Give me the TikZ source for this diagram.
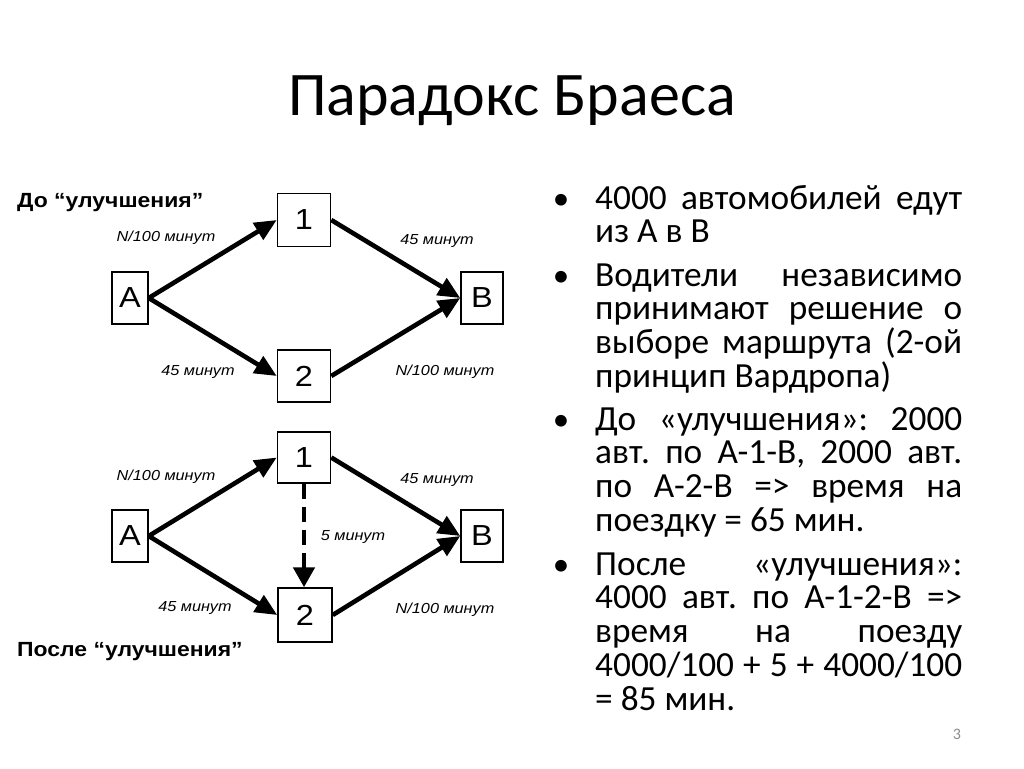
\documentclass[tikz,border=0pt]{standalone}
\usepackage{fontspec}
\setmainfont{Carlito}
\newfontfamily\diagfont[FakeStretch=1.12]{Liberation Sans}
\usetikzlibrary{arrows.meta}
\tikzset{
  box/.style={draw, line width=1.5pt, inner sep=0pt, font=\diagfont\fontsize{29}{29}\selectfont},
  lab/.style={font=\diagfont\itshape\fontsize{14.5}{14.5}\selectfont, inner sep=0pt},
  hdr/.style={font=\diagfont\bfseries\fontsize{20.5}{20.5}\selectfont, inner sep=0pt, anchor=base west},
  edge/.style={line width=4.6pt, -{Triangle[length=22pt,width=19pt]}},
  dashedge/.style={line width=4.8pt, dash pattern=on 15pt off 8pt, -{Triangle[length=20pt,width=21pt]}},
  bul/.style={anchor=base, inner sep=0pt, font=\fontsize{33}{33}\selectfont},
  para/.style={anchor=base west, inner sep=0pt}
}
\newcommand{\bodytext}[1]{\parbox[t]{367pt}{\fontsize{35.3}{33.8}\selectfont\frenchspacing\hyphenpenalty=10000\tolerance=9999\emergencystretch=20pt #1}}
\begin{document}
\begin{tikzpicture}[x=1pt,y=-1pt]
\useasboundingbox (0,0) rectangle (1024,768);
\fill[white] (0,0) rectangle (1024,768);

% title
\node[anchor=base, inner sep=0pt, font=\fontsize{62}{62}\selectfont] (title) at (512,115) {Парадокс Браеса};

% ---------- top diagram ----------
\node[hdr] (h1) at (17,207) {До “улучшения”};
\node[box, minimum width=36pt, minimum height=52pt] (A1) at (130,298) {A};
\node[box, minimum width=53pt, minimum height=53pt] (p1) at (304,220) {1};
\node[box, minimum width=53pt, minimum height=52pt] (q1) at (304,376) {2};
\node[box, minimum width=42pt, minimum height=52pt] (B1) at (482,298) {B};
\draw[edge] (A1.east) -- (p1.west);
\draw[edge] (A1.east) -- (q1.west);
\draw[edge] (p1.east) -- (B1.west);
\draw[edge] (q1.east) -- (B1.west);
\node[lab] (l11) at (166,238) {N/100 минут};
\node[lab] (l12) at (437,241) {45 минут};
\node[lab] (l13) at (198,372) {45 минут};
\node[lab] (l14) at (445,372) {N/100 минут};

% ---------- bottom diagram ----------
\node[box, minimum width=36pt, minimum height=52pt] (A2) at (130,536) {A};
\node[box, minimum width=53pt, minimum height=51pt] (p2) at (304,457.5) {1};
\node[box, minimum width=54pt, minimum height=54pt] (q2) at (305,615) {2};
\node[box, minimum width=42pt, minimum height=52pt] (B2) at (482,536) {B};
\draw[edge] (A2.east) -- (p2.west);
\draw[edge] (A2.east) -- (q2.west);
\draw[edge] (p2.east) -- (B2.west);
\draw[edge] (q2.east) -- (B2.west);
\draw[dashedge] (p2.south) -- (p2.south |- q2.north);
\node[lab] (l21) at (166,477) {N/100 минут};
\node[lab] (l22) at (437,480) {45 минут};
\node[lab] (l23) at (353,537) {5 минут};
\node[lab] (l24) at (195,608) {45 минут};
\node[lab] (l25) at (445,610) {N/100 минут};
\node[hdr] (h2) at (17,656) {После “улучшения”};

% ---------- bullets ----------
\node[bul] (b1) at (561,209) {•};
\node[para] (t1) at (595,209) {\bodytext{4000 автомобилей едут\linebreak из А в В}};
\node[bul] (b2) at (561,286) {•};
\node[para] (t2) at (595,286) {\bodytext{Водители независимо\linebreak принимают решение о\linebreak выборе маршрута (2-ой\linebreak принцип Вардропа)}};
\node[bul] (b3) at (561,430) {•};
\node[para] (t3) at (595,430) {\bodytext{До «улучшения»: 2000\linebreak авт. по А-1-В, 2000 авт.\linebreak по А-2-В => время на\linebreak поездку = 65 мин.}};
\node[bul] (b4) at (561,575) {•};
\node[para] (t4) at (595,575) {\bodytext{После «улучшения»:\linebreak 4000 авт. по А-1-2-В =>\linebreak время на поезду\linebreak 4000/100 + 5 + 4000/100\linebreak = 85 мин.}};

% page number
\node[anchor=base, inner sep=0pt, text=black!45, font=\fontsize{16}{16}\selectfont] (pg) at (957,739) {3};
\end{tikzpicture}
\end{document}
